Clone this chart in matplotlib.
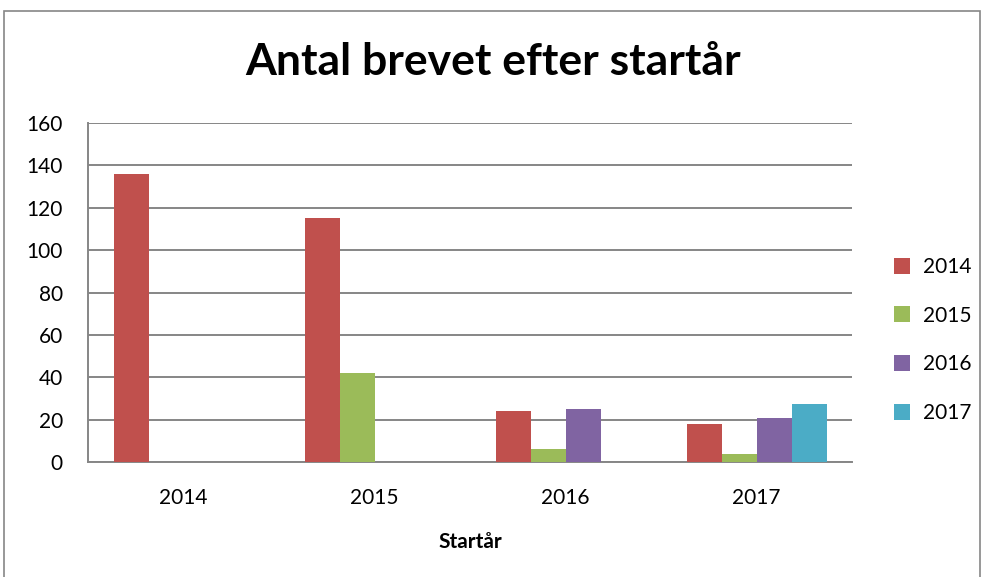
import numpy as np
import matplotlib
matplotlib.use("Agg")
import matplotlib.pyplot as plt
from matplotlib.patches import Rectangle

# data
categories = ["2014", "2015", "2016", "2017"]
series_names = ["2014", "2015", "2016", "2017"]
vals_2014 = [136, 115, 24, 18]
vals_2015 = [0, 42, 6, 4]
vals_2016 = [0, 0, 25, 21]
vals_2017 = [0, 0, 0, 27.5]
colors = ["#C0504D", "#9BBB59", "#8064A2", "#4BACC6"]

plt.rcParams['font.family'] = ['Lato', 'DejaVu Sans']

fig = plt.figure(figsize=(9.86, 5.77), dpi=100)
ax = fig.add_axes([0.0892, 0.1993, 0.775, 0.5875])

x = np.arange(len(categories))
width = 0.183
all_vals = [vals_2014, vals_2015, vals_2016, vals_2017]
for i, (name, vals) in enumerate(zip(series_names, all_vals)):
    offs = (i - 1.5) * width
    ax.bar(x + offs, vals, width, color=colors[i], label=name, zorder=3)

ax.set_xlim(-0.5, len(categories) - 0.5)
ax.set_ylim(0, 160)
ax.set_yticks(np.arange(0, 161, 20))
ax.set_xticks(x)
ax.set_xticklabels(categories)
ax.tick_params(axis='both', length=0, labelsize=15)
ax.tick_params(axis='x', pad=19)
ax.tick_params(axis='y', pad=18)
ax.yaxis.grid(True, color='#868686', linewidth=1.4, zorder=0)
for s in ['top', 'right']:
    ax.spines[s].set_visible(False)
for s in ['left', 'bottom']:
    ax.spines[s].set_color('#868686')
    ax.spines[s].set_linewidth(1.4)

ax.set_xlabel("Startår", fontsize=15, fontweight='bold', labelpad=17)
fig.text(0.5, 0.893, "Antal brevet efter startår", ha='center', va='center',
         fontsize=32, fontweight='bold')

leg = ax.legend(loc='center left', bbox_to_anchor=(1.03, 0.36), frameon=False,
                fontsize=15, handlelength=0.8, handleheight=0.8,
                labelspacing=1.38, handletextpad=0.6)

fig.patches.append(Rectangle((0.004, -0.01), 0.99, 0.991, transform=fig.transFigure,
                             fill=False, edgecolor='#868686', linewidth=1.2))

fig.savefig("out.png", dpi=100)
